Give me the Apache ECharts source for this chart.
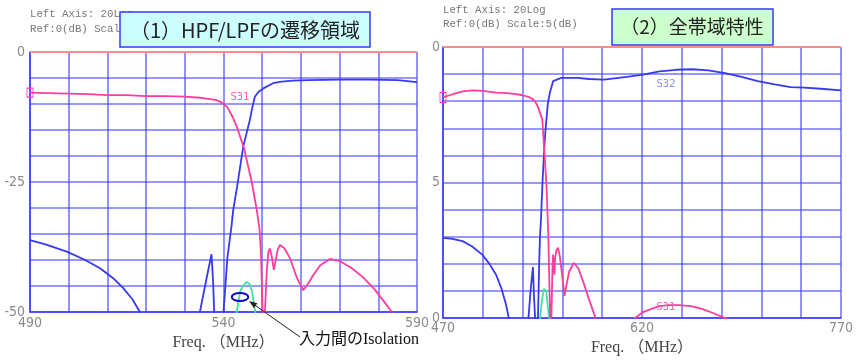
<!DOCTYPE html>
<html><head><meta charset="utf-8">
<script src="https://cdn.jsdelivr.net/npm/echarts@6/dist/echarts.min.js"></script>
<style>html,body{margin:0;padding:0;background:#fff}#c{width:856px;height:361px}</style>
</head><body><div id="c"></div>
<script>
// ---- tick labels ----
const xTickVals1 = [490, 540, 590];
const xTickVals2 = [470, 620, 770];
const yTickVals = [0, -25, -50];
const yTickText1 = ['0', '-25', '-50'];
const yTickText2 = ['0', '5', '0'];

// ---- panel (1): HPF/LPF transition region, [MHz, dB] ----
const s31Left = [[490,-7.8],[495,-7.9],[500,-8.0],[505,-8.1],[510,-8.3],[515,-8.3],[520,-8.5],[525,-8.5],[530,-8.6],[534,-8.8],[536,-9.0],[538,-9.2],[539.5,-9.7],[541,-10.6],[542.5,-12.7],[543.5,-14.5],[545.3,-18.5],[547.3,-25],[548.6,-30.4],[549.3,-34],[549.7,-39],[550.1,-50],[550.4,-56],[550.7,-50],[551.2,-42],[551.6,-38.4],[552.0,-37.8],[552.5,-39.5],[553.0,-41.9],[553.5,-40],[554,-38],[554.6,-37.1],[555.8,-37.8],[557.2,-39.7],[559,-43.5],[560.6,-45.8],[561.8,-44.6],[563.2,-42.9],[565,-41],[567.5,-39.8],[570,-40.2],[573,-41.5],[576,-43.3],[579,-45.6],[581.5,-48],[583.5,-50],[585,-51.8]];
const s32Left = [[490,-36.2],[494,-37.0],[499.5,-38.4],[504,-39.9],[508.1,-41.6],[511.5,-43.5],[514.1,-45.4],[516.5,-47.6],[518.4,-50],[519.5,-52],[522,-60],[532,-60],[533.9,-50],[535.5,-44],[536.9,-38.9],[537.3,-44],[537.6,-50],[538.5,-60],[539.5,-60],[540.0,-50],[540.4,-46],[541,-39.6],[542.1,-33.3],[542.5,-30.4],[543.5,-26],[545.1,-18.2],[546,-15.5],[546.8,-13.1],[547.5,-10.5],[548.1,-8.6],[549,-7.7],[550.3,-7.0],[552.8,-6.0],[555,-5.7],[558,-5.5],[562,-5.4],[570,-5.3],[578,-5.3],[585,-5.4],[590,-5.8]];
const isoLeft = [[543.1,-52],[543.4,-50],[544.3,-46.1],[545,-45],[546,-44.2],[546.7,-44.6],[547.3,-45.8],[547.8,-48],[548.2,-50],[548.5,-52]];

// ---- panel (2): full band, [MHz, dB] ----
const s31Right = [[470,-9.3],[475,-8.9],[480,-8.5],[485,-8.2],[492,-8.0],[500,-8.1],[510,-8.4],[518,-8.5],[525,-8.7],[530,-8.9],[534.4,-9.2],[537,-9.5],[539.4,-10.0],[541.5,-11],[543.1,-12.1],[544.8,-13.3],[546.3,-18.8],[548,-25.5],[549.3,-34],[549.7,-38],[550.3,-45],[551,-53],[551.4,-56],[551.7,-50],[552.5,-41],[553,-38.3],[553.5,-40],[554,-42],[554.5,-39],[555.5,-37.5],[556.7,-37],[558,-38.5],[560,-42.5],[561.6,-45.9],[563,-44],[565,-41.5],[568.5,-39.8],[572,-40.8],[576,-43.5],[580,-46.5],[585,-50],[588,-53],[595,-58],[605,-58],[612,-51.5],[614.7,-50],[620,-49],[627,-48.3],[633.2,-47.8],[640,-47.6],[648,-47.6],[657,-47.8],[665.3,-48.3],[674,-49.1],[682.6,-50],[686,-50.6]];
const s32Right = [[470,-35.2],[477,-35.4],[484.8,-35.8],[492,-36.8],[499.6,-38.3],[505,-40],[510,-42],[514,-44.5],[517.4,-47.4],[519.6,-50],[520.5,-52],[525,-60],[533,-60],[534.4,-50],[536,-45],[537.8,-40.6],[538.6,-46],[539.4,-50],[540,-60],[541,-60],[541.6,-50],[542.5,-40],[543.1,-35],[543.9,-31.6],[545,-25],[546.3,-18.8],[547.2,-15.5],[548,-13.3],[549,-10.5],[550.5,-8.5],[553,-6.3],[559.1,-5.7],[571.5,-5.7],[580,-5.9],[591.3,-6.0],[608.5,-5.5],[620.9,-5.1],[633.2,-4.5],[645.6,-4.2],[658,-4.1],[670,-4.3],[682.6,-4.8],[695,-5.5],[707.3,-6.3],[720,-6.9],[732,-7.4],[741.9,-7.5],[755,-7.7],[770,-8.0]];
const isoRight = [[542.8,-52],[543.1,-50],[544.5,-47],[546,-44.6],[546.8,-44.3],[547.8,-45],[549,-48],[550,-50],[550.3,-52]];

const X2_BASE = 470; // right axis is drawn as offset from 470 so ticks start at min

const PINK = '#ff3d9a', BLUE = '#3838f0', GREEN = '#40e39c';
const GRID_LINE = { color: 'rgba(70,70,255,0.75)', width: 1.6 };
const LABEL_FONT = '"Liberation Sans Narrow","DejaVu Sans Condensed","Liberation Sans",sans-serif';
const NAME_FONT = '"Liberation Serif","Noto Sans CJK JP",serif';
const MONO = '"Liberation Mono","DejaVu Sans Mono",monospace';
const CJK = '"Noto Sans CJK JP",sans-serif';

function withMarker(arr, color, size) {
  return arr.map((p, i) => i === 0
    ? { value: p, symbol: 'rect', symbolSize: size, itemStyle: { color: 'rgba(255,255,255,0)', borderColor: color, borderWidth: 1 } }
    : p);
}
function shift(arr) { return arr.map(([f, v]) => [f - X2_BASE, v]); }

function yFmt(texts) {
  return v => { const i = yTickVals.indexOf(v); return i >= 0 ? texts[i] : ''; };
}

const yAxisCommon = {
  type: 'value', min: -50, max: 0, interval: 5,
  axisTick: { show: false },
  splitLine: { show: true, lineStyle: GRID_LINE },
  axisLine: { show: true, lineStyle: { color: '#3a3aff', width: 1.5 } },
  axisLabel: { color: '#8a8a8a', fontSize: 14, fontFamily: LABEL_FONT, margin: 5 }
};
const xAxisCommon = {
  type: 'value',
  axisTick: { show: false },
  splitLine: { show: true, lineStyle: GRID_LINE },
  axisLine: { show: true, onZero: false, lineStyle: { color: '#3a3aff', width: 1.5 } },
  nameLocation: 'middle',
  nameTextStyle: { color: '#444', fontSize: 16, fontFamily: NAME_FONT }
};

const refLine = { silent: true, symbol: 'none', animation: false,
  data: [{ yAxis: 0 }], label: { show: false },
  lineStyle: { color: '#ff8c8c', width: 2, type: 'solid' } };

function lineSeries(data, color, xi, extra) {
  return Object.assign({
    type: 'line', data: data, xAxisIndex: xi, yAxisIndex: xi,
    symbol: 'none', showSymbol: true, clip: true, smooth: false, animation: false,
    lineStyle: { color: color, width: 1.8 }, itemStyle: { color: color }
  }, extra || {});
}

const option = {
  backgroundColor: '#fff',
  animation: false,
  grid: [
    { left: 30, top: 52, width: 387, height: 260 },
    { left: 443, top: 47, width: 405, height: 274 }
  ],
  xAxis: [
    Object.assign({}, xAxisCommon, { gridIndex: 0, min: 490, max: 590, interval: 10,
      name: 'Freq. （MHz）', nameGap: 19,
      axisLabel: { color: '#8a8a8a', fontSize: 14, fontFamily: LABEL_FONT, margin: 4,
        formatter: v => xTickVals1.indexOf(v) >= 0 ? String(v) : '' } }),
    Object.assign({}, xAxisCommon, { gridIndex: 1, min: 0, max: 300, interval: 30,
      name: 'Freq. （MHz）', nameGap: 20,
      axisLabel: { color: '#8a8a8a', fontSize: 14, fontFamily: LABEL_FONT, margin: 3,
        formatter: v => xTickVals2.indexOf(v + X2_BASE) >= 0 ? String(v + X2_BASE) : '' } })
  ],
  yAxis: [
    Object.assign({}, yAxisCommon, { gridIndex: 0,
      axisLabel: Object.assign({}, yAxisCommon.axisLabel, { formatter: yFmt(yTickText1) }) }),
    Object.assign({}, yAxisCommon, { gridIndex: 1,
      axisLabel: Object.assign({}, yAxisCommon.axisLabel, { margin: 3, formatter: yFmt(yTickText2) }) })
  ],
  series: [
    lineSeries(s32Left, BLUE, 0),
    lineSeries(isoLeft, GREEN, 0),
    lineSeries(withMarker(s31Left, PINK, [6, 9]), PINK, 0, { markLine: refLine }),
    lineSeries(shift(s32Right), BLUE, 1),
    lineSeries(shift(isoRight), GREEN, 1),
    lineSeries(withMarker(shift(s31Right), PINK, [6, 10]), PINK, 1, { markLine: refLine })
  ],
  graphic: [
    // instrument header text
    { type: 'text', left: 30, top: 9, z: 1, style: { text: 'Left Axis: 20Log', font: '10.7px ' + MONO, fill: '#777' } },
    { type: 'text', left: 30, top: 24, z: 1, style: { text: 'Ref:0(dB) Scale:5(dB)', font: '10.7px ' + MONO, fill: '#777' } },
    { type: 'text', left: 443, top: 5, z: 1, style: { text: 'Left Axis: 20Log', font: '10.7px ' + MONO, fill: '#777' } },
    { type: 'text', left: 443, top: 19, z: 1, style: { text: 'Ref:0(dB) Scale:5(dB)', font: '10.7px ' + MONO, fill: '#777' } },
    // title boxes
    { type: 'rect', z: 10, shape: { x: 120, y: 12, width: 250, height: 35 },
      style: { fill: '#ccfdff', stroke: '#3a3aff', lineWidth: 1.5 } },
    { type: 'text', z: 11, x: 245, y: 30, style: { text: '（1）HPF/LPFの遷移領域', font: '20px ' + CJK, fill: '#222', align: 'center', verticalAlign: 'middle' } },
    { type: 'rect', z: 10, shape: { x: 612, y: 9, width: 161, height: 36 },
      style: { fill: '#ccffcc', stroke: '#3a3aff', lineWidth: 1.5 } },
    { type: 'text', z: 11, x: 692, y: 27, style: { text: '（2）全帯域特性', font: '19px ' + CJK, fill: '#222', align: 'center', verticalAlign: 'middle' } },
    // trace labels
    { type: 'text', z: 5, x: 240, y: 97, style: { text: 'S31', font: '11px ' + LABEL_FONT, fill: '#ff5fae', align: 'center', verticalAlign: 'middle' } },
    { type: 'text', z: 5, x: 666, y: 84, style: { text: 'S32', font: '11px ' + LABEL_FONT, fill: '#8c8cff', align: 'center', verticalAlign: 'middle' } },
    { type: 'text', z: 5, x: 666, y: 307, style: { text: 'S31', font: '11px ' + LABEL_FONT, fill: '#ff5fae', align: 'center', verticalAlign: 'middle' } },
    // isolation annotation
    { type: 'ellipse', z: 12, shape: { cx: 240, cy: 297, rx: 8.3, ry: 4 },
      style: { fill: 'none', stroke: '#0a0acc', lineWidth: 2 } },
    { type: 'line', z: 12, shape: { x1: 300, y1: 337, x2: 254, y2: 304.5 },
      style: { stroke: '#222', lineWidth: 1 } },
    { type: 'polygon', z: 12, shape: { points: [[249, 301], [257.3, 303.2], [253.8, 308.1]] },
      style: { fill: '#222' } },
    { type: 'text', z: 12, x: 299, y: 340, style: { text: '入力間のIsolation', font: '16px ' + NAME_FONT, fill: '#111', verticalAlign: 'middle' } }
  ]
};

const chart = echarts.init(document.getElementById('c'), null, { renderer: 'canvas' });
chart.setOption(option);
</script>
</body></html>
